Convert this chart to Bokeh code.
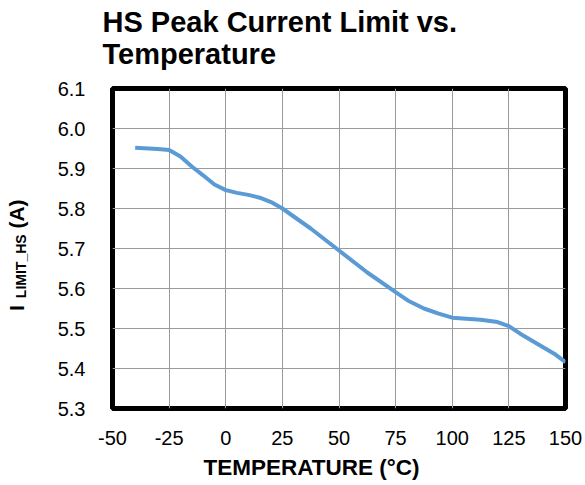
from bokeh.plotting import figure
from bokeh.models import Range1d, FixedTicker, Title, Div
from bokeh.core.properties import value
from bokeh.layouts import row, column
from bokeh.embed import file_html
from bokeh.resources import INLINE

# Data
temperature = [-40, -30, -25, -20, -15, -10, -5, 0, 5, 10, 15, 20, 25, 37.5, 50, 62.5, 75, 81, 87.5, 94, 100, 112.5, 120, 125, 130, 137.5, 145, 150]
i_limit_hs = [5.952, 5.949, 5.946, 5.930, 5.905, 5.883, 5.860, 5.846, 5.839, 5.834, 5.827, 5.816, 5.800, 5.750, 5.695, 5.640, 5.591, 5.568, 5.550, 5.537, 5.527, 5.522, 5.516, 5.506, 5.487, 5.462, 5.437, 5.416]

x_ticks = [-50, -25, 0, 25, 50, 75, 100, 125, 150]
x_tick_labels = ["-50", "-25", "0", "25", "50", "75", "100", "125", "150"]
y_ticks = [5.3, 5.4, 5.5, 5.6, 5.7, 5.8, 5.9, 6.0, 6.1]
y_tick_labels = ["5.3", "5.4", "5.5", "5.6", "5.7", "5.8", "5.9", "6.0", "6.1"]

title_lines = ["HS Peak Current Limit vs.", "Temperature"]
x_title = "TEMPERATURE (°C)"
y_title_main, y_title_sub, y_title_unit = "I", "LIMIT_HS", "(A)"

FONT = "Liberation Sans"
W, H = 585, 485
HEAD_H = 72
LAB_W = 40

# ---- header with the two-line chart title
head = figure(width=W, height=HEAD_H, output_backend="svg", toolbar_location=None,
              x_range=Range1d(0, W), y_range=Range1d(0, HEAD_H),
              x_axis_type=None, y_axis_type=None, min_border=0)
head.outline_line_color = None
head.grid.visible = False
head.text(x=[102, 102], y=[HEAD_H - 21, HEAD_H - 53], text=title_lines,
          text_font=value(FONT), text_font_size="29px", text_font_style="bold",
          text_color="black", text_align="left", text_baseline="alphabetic")

# ---- main plot
p = figure(width=W - LAB_W, height=H - HEAD_H, output_backend="svg", toolbar_location=None,
           x_range=Range1d(-50, 150), y_range=Range1d(5.3, 6.1),
           min_border_left=72, min_border_right=20, min_border_top=88 - HEAD_H,
           min_border_bottom=77)

p.outline_line_color = "black"
p.outline_line_width = 5
p.background_fill_color = "white"
p.border_fill_color = "white"

for ax in (p.xaxis[0], p.yaxis[0]):
    ax.axis_line_color = None
    ax.major_tick_line_color = None
    ax.minor_tick_line_color = None
    ax.major_label_text_font = FONT
    ax.major_label_text_font_size = "20px"
    ax.major_label_text_color = "black"

p.xaxis.major_label_standoff = 16
p.yaxis.major_label_standoff = 21
p.xaxis.ticker = FixedTicker(ticks=x_ticks)
p.yaxis.ticker = FixedTicker(ticks=y_ticks)
p.xaxis.major_label_overrides = dict(zip(x_ticks, x_tick_labels))
p.yaxis.major_label_overrides = dict(zip(y_ticks, y_tick_labels))

p.xgrid.ticker = FixedTicker(ticks=x_ticks)
p.ygrid.ticker = FixedTicker(ticks=y_ticks)
p.grid.grid_line_color = "#9a9a9a"
p.grid.grid_line_width = 1

p.line(temperature, i_limit_hs, line_color="#5B9BD5", line_width=4)

# X axis title
p.add_layout(Title(text=x_title, align="left", offset=91, standoff=11,
                   text_font=FONT, text_font_size="22.5px", text_font_style="bold",
                   text_color="black"), "below")

# ---- Y axis title with subscript (rotated HTML text)
y_html = (
    '<div style="position:relative;width:%dpx;height:%dpx;margin:0;padding:0;">'
    '<div style="position:absolute;left:5px;top:%dpx;transform-origin:0 0;'
    'transform:rotate(-90deg);white-space:nowrap;font-family:\'%s\';font-weight:bold;'
    'font-size:21px;line-height:24px;color:#000;">%s'
    '<span style="font-size:14px;position:relative;top:2px;margin-left:7px;">%s</span>'
    ' %s</div></div>'
) % (LAB_W, H - HEAD_H, 311 - HEAD_H, FONT, y_title_main, y_title_sub, y_title_unit)
ylab = Div(text=y_html, width=LAB_W, height=H - HEAD_H,
           styles={"margin": "0", "padding": "0", "overflow": "visible"})

layout = column(head, row(ylab, p, spacing=0), spacing=0)

open("out.html", "w").write(file_html(layout, INLINE))
